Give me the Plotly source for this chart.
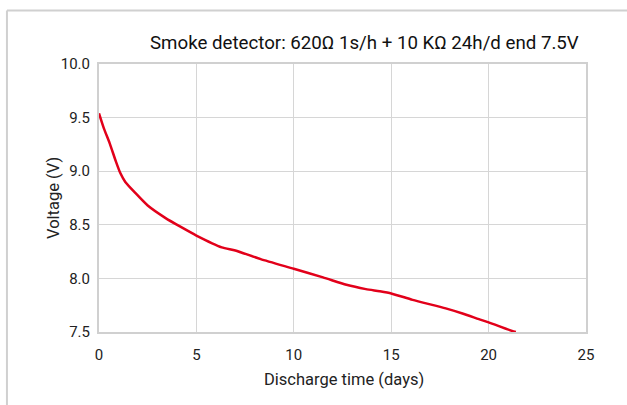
import plotly.graph_objects as go

days = [0, 0.25, 0.55, 0.85, 1.1, 1.35, 1.85, 2.5, 3.4, 4.2, 5.0, 6.3, 7.0, 8.3,
        10.0, 11.5, 12.7, 13.7, 14.4, 15.0, 16.1, 17.8, 18.7, 19.5, 20.0, 21.2, 21.4]
voltage = [9.54, 9.40, 9.26, 9.10, 8.98, 8.90, 8.80, 8.68, 8.565, 8.48, 8.40, 8.29, 8.26, 8.18,
           8.09, 8.01, 7.94, 7.90, 7.88, 7.86, 7.80, 7.72, 7.67, 7.62, 7.59, 7.51, 7.50]

x_ticks = [0, 5, 10, 15, 20, 25]
y_ticks = [7.5, 8.0, 8.5, 9.0, 9.5, 10.0]
y_labels = ["7.5", "8.0", "8.5", "9.0", "9.5", "10.0"]

title = "Smoke detector: 620Ω 1s/h + 10 KΩ 24h/d end 7.5V"
x_title = "Discharge time (days)"
y_title = "Voltage (V)"
FONT = "Roboto, sans-serif"

fig = go.Figure()
fig.add_trace(go.Scatter(x=days, y=voltage, mode="lines",
                         line=dict(color="#e2001a", width=2.5, shape="spline", smoothing=0.6),
                         hoverinfo="skip", showlegend=False))

axis_common = dict(showgrid=True, gridcolor="#d6d6d6", gridwidth=1,
                   showline=True, linecolor="#d0d0d0", linewidth=2, mirror=True,
                   zeroline=False, ticks="", tickfont=dict(family=FONT, size=15, color="#222"))

fig.update_xaxes(range=[0, 25], tickvals=x_ticks, ticktext=[str(t) for t in x_ticks],
                 ticklabelstandoff=8, **axis_common)
fig.update_yaxes(range=[7.5, 10.0], tickvals=y_ticks, ticktext=y_labels,
                 ticklabelstandoff=4, **axis_common)

fig.add_annotation(text=title, xref="paper", yref="paper", x=0.99, y=1.078,
                   xanchor="right", yanchor="middle", showarrow=False,
                   font=dict(family=FONT, size=18.7, color="#111"))
fig.add_annotation(text=x_title, xref="paper", yref="paper", x=0.503, y=-0.179,
                   xanchor="center", yanchor="middle", showarrow=False,
                   font=dict(family=FONT, size=16.5, color="#222"))
fig.add_annotation(text=y_title, xref="paper", yref="paper", x=-0.0945, y=0.5,
                   xanchor="center", yanchor="middle", showarrow=False, textangle=-90,
                   font=dict(family=FONT, size=16.5, color="#222"))

# outer frame (top and left border)
fig.add_shape(type="line", xref="paper", yref="paper", x0=-0.189, x1=2, y0=1.2, y1=1.2,
              line=dict(color="#d0d0d0", width=2))
fig.add_shape(type="line", xref="paper", yref="paper", x0=-0.189, x1=-0.189, y0=1.2, y1=-2,
              line=dict(color="#d0d0d0", width=2))

fig.update_layout(width=627, height=405, margin=dict(l=99, r=41, t=64, b=73),
                  paper_bgcolor="white", plot_bgcolor="white")

fig.write_html("out.html", config={"displayModeBar": False},
               post_script="document.body.style.margin='0';")
